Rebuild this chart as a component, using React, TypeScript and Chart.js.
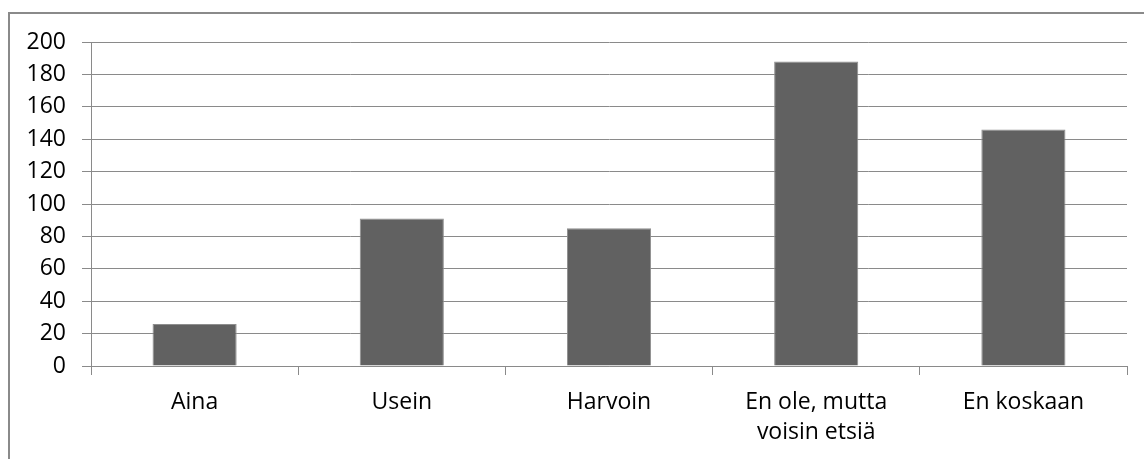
import React, { useEffect, useRef } from "react";
import { Chart, registerables } from "chart.js";

Chart.register(...registerables);

// Survey answer categories (multi-line where the label wraps)
const categories: (string | string[])[] = [
  "Aina",
  "Usein",
  "Harvoin",
  ["En ole, mutta", "voisin etsiä"],
  "En koskaan",
];

// Number of respondents per answer
const counts: number[] = [26, 91, 85, 188, 146];

// Value axis range
const yMin = 0;
const yMax = 200;
const yStep = 20;

const FONT = "'Open Sans', 'Noto Sans', sans-serif";

export default function App() {
  const canvasRef = useRef<HTMLCanvasElement | null>(null);

  useEffect(() => {
    const canvas = canvasRef.current;
    if (!canvas) return;
    const chart = new Chart(canvas, {
      type: "bar",
      data: {
        labels: categories,
        datasets: [
          {
            data: counts,
            backgroundColor: "#616161",
            borderColor: "#8e8e8e",
            borderWidth: 1,
            barPercentage: 0.406,
            categoryPercentage: 1,
          },
        ],
      },
      options: {
        animation: false,
        responsive: false,
        maintainAspectRatio: false,
        devicePixelRatio: 1,
        layout: { padding: { top: 42, right: 17, bottom: 0, left: 0 } },
        plugins: {
          legend: { display: false },
          tooltip: { enabled: false },
        },
        scales: {
          x: {
            grid: {
              display: true,
              drawOnChartArea: false,
              drawTicks: true,
              tickLength: 9,
              color: "#8a8a8a",
              lineWidth: 1,
            },
            border: { display: true, color: "#8a8a8a", width: 1 },
            ticks: {
              color: "#000",
              padding: 12,
              maxRotation: 0,
              autoSkip: false,
              font: { family: FONT, size: 23, lineHeight: 1.31 },
            },
            afterFit: (scale: any) => {
              scale.height = 93;
            },
          },
          y: {
            min: yMin,
            max: yMax,
            grid: {
              color: "#8a8a8a",
              lineWidth: 1,
              drawTicks: true,
              tickLength: 9,
            },
            border: { display: true, color: "#8a8a8a", width: 1 },
            ticks: {
              stepSize: yStep,
              color: "#000",
              padding: 16,
              font: { family: FONT, size: 23 },
            },
            afterFit: (scale: any) => {
              scale.width = 91;
            },
          },
        },
      },
    });
    return () => chart.destroy();
  }, []);

  return (
    <>
      <div
        style={{
          position: "fixed",
          left: 8,
          top: 12,
          width: 1136,
          height: 447,
          boxSizing: "border-box",
          borderTop: "2px solid #8a8a8a",
          borderLeft: "2px solid #8a8a8a",
          background: "#fff",
        }}
      />
      <canvas
        ref={canvasRef}
        width={1144}
        height={459}
        style={{ position: "fixed", left: 0, top: 0, width: 1144, height: 459 }}
      />
    </>
  );
}
